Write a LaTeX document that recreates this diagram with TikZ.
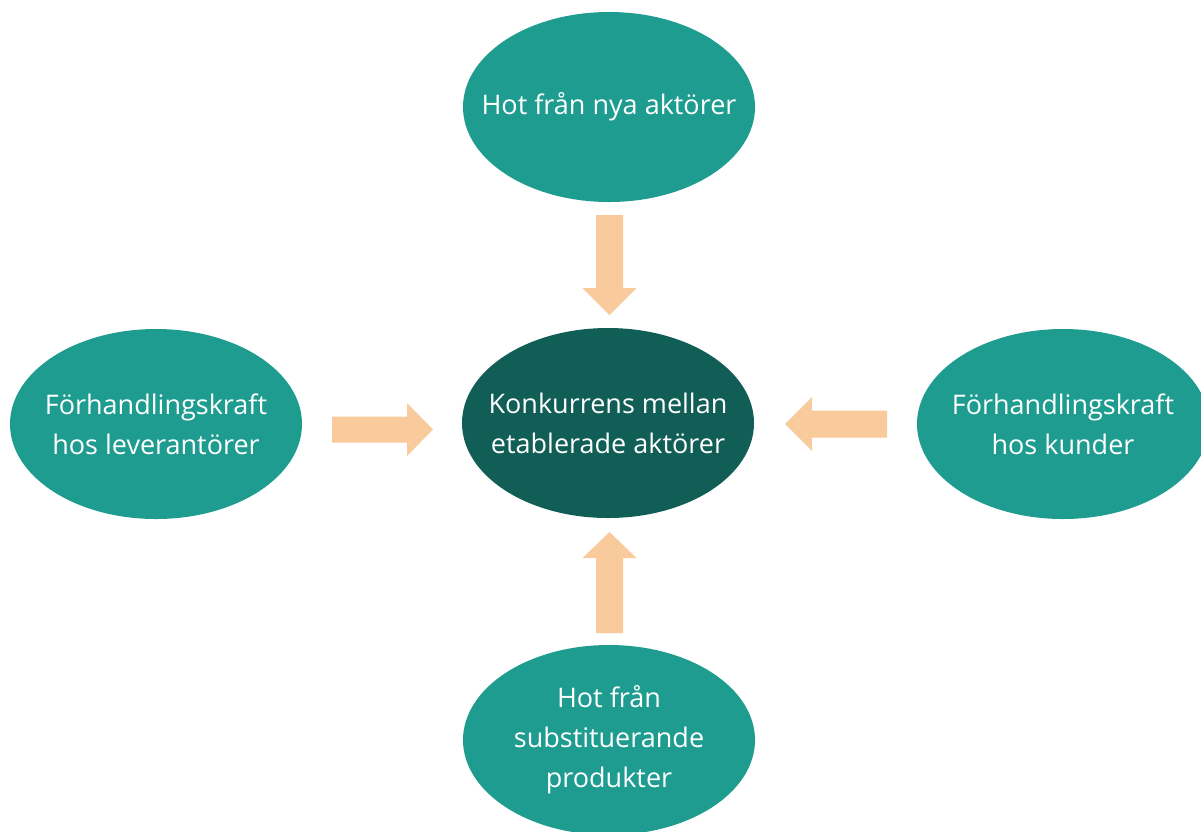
\documentclass[tikz,border=0pt]{standalone}
\usepackage{fontspec}
\setmainfont{Open Sans}
\usetikzlibrary{shapes.geometric,calc}
\definecolor{forceteal}{HTML}{1E9C8F}
\definecolor{rivalry}{HTML}{115E56}
\definecolor{pushpeach}{HTML}{F9CB9C}
\begin{document}
\begin{tikzpicture}[x=1pt,y=-1pt,
  force/.style={ellipse, fill=forceteal, draw=none, minimum width=292pt, minimum height=190pt,
    inner xsep=-80pt, inner ysep=-60pt, text=white, align=center, font=\fontsize{27}{40}\selectfont},
  core/.style={force, fill=rivalry},
  push/.style={fill=pushpeach, draw=none}]
\useasboundingbox (0,0) rectangle (1201,831);
\clip (0,0) rectangle (1201,831);
\fill[white] (0,0) rectangle (1201,831);

\node[force] (entrants) at (609,107) {Hot från nya aktörer};
\node[core] (rivals) at (608,423) {Konkurrens mellan\\etablerade aktörer};
\node[force] (suppliers) at (156,424) {Förhandlingskraft\\hos leverantörer};
\node[force] (buyers) at (1063,424) {Förhandlingskraft\\hos kunder};
\node[force] (substitutes) at (609,740) {Hot från\\substituerande\\produkter};

% block arrows pointing towards the central rivalry
\coordinate (aTop) at (609.5,215);
\fill[push] (aTop) ++(-13.5,0) -- ++(27,0) -- ++(0,73) -- ++(13.5,0)
  -- ($(aTop)+(0,100)$) -- ($(aTop)+(-27,73)$) -- ($(aTop)+(-13.5,73)$) -- cycle;

\coordinate (aBot) at (609.5,633);
\fill[push] (aBot) ++(-13.5,0) -- ++(27,0) -- ++(0,-75) -- ++(13.5,0)
  -- ($(aBot)+(0,-101)$) -- ($(aBot)+(-27,-75)$) -- ($(aBot)+(-13.5,-75)$) -- cycle;

\coordinate (aLeft) at (332,429.5);
\fill[push] (aLeft) ++(0,-13) -- ++(75,0) -- ++(0,-13.5)
  -- ($(aLeft)+(101,0)$) -- ($(aLeft)+(75,26.5)$) -- ($(aLeft)+(75,13)$) -- ($(aLeft)+(0,13)$) -- cycle;

\coordinate (aRight) at (887,424);
\fill[push] (aRight) ++(0,-13.5) -- ++(-75,0) -- ++(0,-13.5)
  -- ($(aRight)+(-102,0)$) -- ($(aRight)+(-75,27)$) -- ($(aRight)+(-75,13.5)$) -- ($(aRight)+(0,13.5)$) -- cycle;
\end{tikzpicture}
\end{document}
